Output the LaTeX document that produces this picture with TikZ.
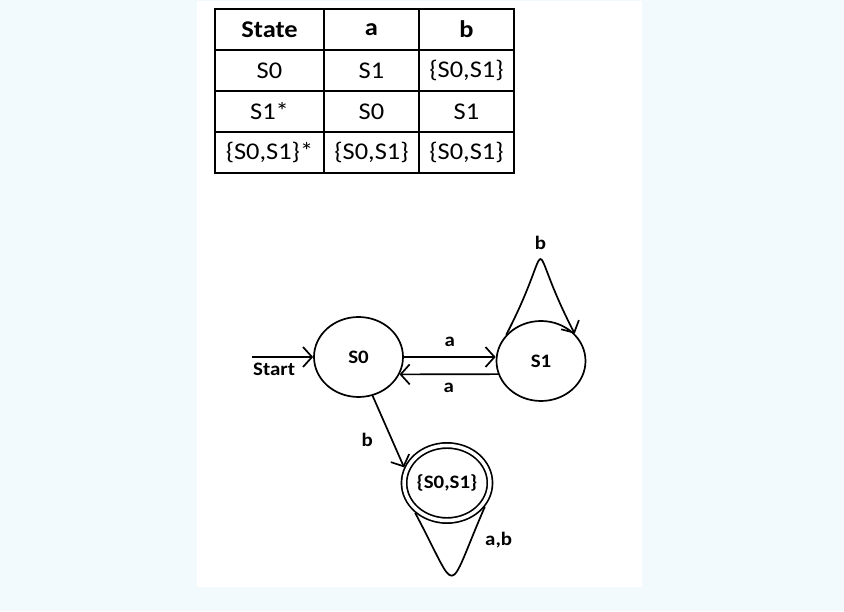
\documentclass[tikz,border=0pt]{standalone}
\usepackage{fontspec}
\setmainfont{Carlito}[FakeStretch=1.1]
\usepackage{tikz}
\usetikzlibrary{positioning,shapes,arrows.meta}
\usepackage{xcolor}
\definecolor{backdrop}{HTML}{F2FAFD}
\tikzstyle{cell}=[rectangle, draw=black, line width=1.8pt, minimum width=95pt, minimum height=41pt,
inner sep=0pt, text centered, font=\fontsize{24}{28}\selectfont]
\tikzstyle{head}=[cell, font=\fontsize{24}{28}\selectfont\bfseries]
\tikzstyle{state}=[ellipse, draw=black, line width=1.7pt, minimum width=89pt, minimum height=80pt,
inner sep=0pt, font=\fontsize{19}{22}\selectfont\bfseries]
\tikzstyle{final}=[state, double, double distance=3.5pt, minimum width=83pt, minimum height=75pt, outer sep=3.5pt]
\tikzstyle{link}=[line width=1.7pt, -{Straight Barb[length=9pt,width=20pt]}]
\tikzstyle{edgetext}=[font=\fontsize{19}{22}\selectfont\bfseries]

\begin{document}
\begin{tikzpicture}[x=1pt, y=1pt]
        \useasboundingbox (0,0) rectangle (844,611);
        \fill [backdrop] (0,0) rectangle (844,611);
        \fill [white] (197,24) rectangle (642,610);

        % transition table
        \node (h1)[head, minimum width=109pt] at (269.5,581.5) {State};
        \node (h2)[head] at (371.5,581.5) {a};
        \node (h3)[head] at (466.5,581.5) {b};
        \node (r11)[cell, minimum width=109pt] at (269.5,540.5) {S0};
        \node (r12)[cell] at (371.5,540.5) {S1};
        \node (r13)[cell] at (466.5,540.5) {\{S0,S1\}};
        \node (r21)[cell, minimum width=109pt] at (269.5,499.5) {S1*};
        \node (r22)[cell] at (371.5,499.5) {S0};
        \node (r23)[cell] at (466.5,499.5) {S1};
        \node (r31)[cell, minimum width=109pt] at (269.5,458.5) {\{S0,S1\}*};
        \node (r32)[cell] at (371.5,458.5) {\{S0,S1\}};
        \node (r33)[cell] at (466.5,458.5) {\{S0,S1\}};

        % automaton
        \node (1)[state] at (358.5,254) {S0};
        \node (2)[state] at (541,250) {S1};
        \node (3)[final] at (447,128) {\{S0,S1\}};
        \coordinate [left=61pt of 1.west] (start);

        \draw [ link ] (start) -- node [edgetext, below=1.5pt, pos=0.36]{Start} (1);
        \draw [ link ] (1.east) -- node [edgetext, above=6pt]{a} (1.east -| 2.west);
        \draw [ link ] (2.197) -- node [edgetext, below=5pt]{a} (1.337);
        \draw [ link ] (2.143) .. controls +(52,100) and +(-52,100) .. node [edgetext, above=5.5pt]{b} (2.39);
        \draw [ link ] (1.290) -- node [edgetext, pos=0.62, left=15pt]{b} (3.160);
        \draw [ line width=1.7pt ] (3.223) .. controls +(45,-84) and +(-40,-92) .. node [edgetext, pos=0.86, right=10pt]{a,b} (3.328);
\end{tikzpicture}
\end{document}
